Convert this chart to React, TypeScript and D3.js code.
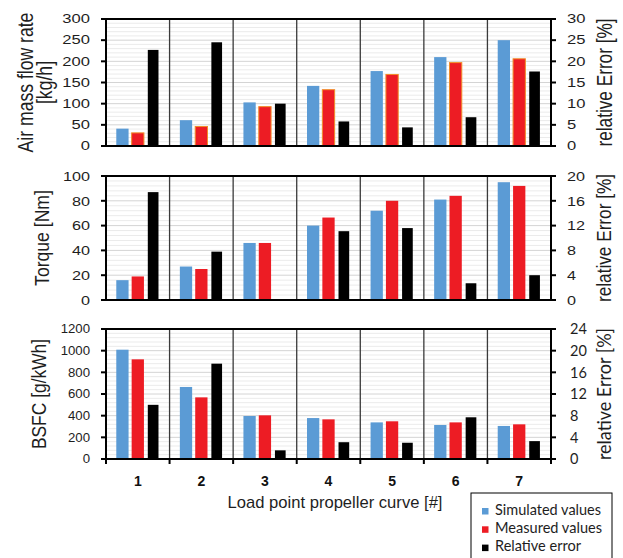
import React from "react";
import * as d3 from "d3";

const categories = ["1", "2", "3", "4", "5", "6", "7"];
const seriesNames = ["Simulated values", "Measured values", "Relative error"];

const airSim = [41, 61, 103, 142, 177, 210, 250];
const airMeas = [31, 46, 93, 133, 169, 197, 206];
const airErr = [22.7, 24.5, 10.0, 5.8, 4.4, 6.8, 17.6];

const torqueSim = [16, 27, 46, 60, 72, 81, 95];
const torqueMeas = [19, 25, 46, 66.5, 80, 84, 92];
const torqueErr = [17.4, 7.8, 0, 11.1, 11.6, 2.7, 4.0];

const bsfcSim = [1009, 665, 397, 378, 338, 314, 305];
const bsfcMeas = [920, 569, 403, 366, 348, 338, 320];
const bsfcErr = [10.0, 17.6, 1.6, 3.1, 3.0, 7.7, 3.3];

const airTicks = [0, 50, 100, 150, 200, 250, 300];
const airErrTicks = [0, 5, 10, 15, 20, 25, 30];
const torqueTicks = [0, 20, 40, 60, 80, 100];
const torqueErrTicks = [0, 4, 8, 12, 16, 20];
const bsfcTicks = [0, 200, 400, 600, 800, 1000, 1200];
const bsfcErrTicks = [0, 4, 8, 12, 16, 20, 24];

const legendWidths = [106, 107, 86];

const BLUE = "#5b9bd5";
const RED = "#ed1c24";
const BLACK = "#000000";
const FONT = "'Liberation Sans', Arial, sans-serif";
const FONT2 = "Lato, 'Open Sans', sans-serif";

const X0 = 106;
const X1 = 551;

const x = d3.scaleBand().domain(categories).range([X0, X1]).padding(0);

type PanelProps = {
  top: number;
  bottom: number;
  sim: number[];
  meas: number[];
  err: number[];
  ticks: number[];
  errTicks: number[];
  title: string[];
  fs: number;
  sx: number;
  titleFs: number;
  titleSx: number;
  titleX: number;
  errFont: string;
  errLabelX: number;
  measStroke?: string;
  showX?: boolean;
};

const Panel = (p: PanelProps) => {
  const y = d3
    .scaleLinear()
    .domain([0, p.ticks[p.ticks.length - 1]])
    .range([p.bottom, p.top]);
  const y2 = d3
    .scaleLinear()
    .domain([0, p.errTicks[p.errTicks.length - 1]])
    .range([p.bottom, p.top]);

  // minor grid, 5 per major step
  const step = p.ticks[1] - p.ticks[0];
  const minor: number[] = [];
  for (let i = 0; i < p.ticks.length - 1; i++) {
    for (let k = 1; k < 5; k++) minor.push(p.ticks[i] + (step * k) / 5);
  }

  const bw = x.bandwidth();
  const sub = d3.scaleBand().domain(seriesNames).range([0, 43]).paddingInner(0.2);

  const cy = (p.top + p.bottom) / 2;

  return (
    <g>
      {minor.map((v, i) => (
        <line key={"m" + i} x1={X0} x2={X1} y1={y(v)} y2={y(v)} stroke="#ebebeb" strokeWidth={1} />
      ))}
      {p.ticks.map((v) => (
        <line key={"g" + v} x1={X0} x2={X1} y1={y(v)} y2={y(v)} stroke="#d4d4d4" strokeWidth={1} />
      ))}
      {categories.slice(1).map((c) => (
        <line
          key={"d" + c}
          x1={x(c)}
          x2={x(c)}
          y1={p.top}
          y2={p.bottom}
          stroke="#3a3a3a"
          strokeWidth={1.3}
        />
      ))}

      {categories.map((c, i) => {
        const c0 = (x(c) as number) + bw / 2 - 21.5;
        return (
          <g key={"b" + c}>
            <rect
              x={c0 + (sub("Simulated values") as number)}
              y={y(p.sim[i])}
              width={sub.bandwidth()}
              height={p.bottom - y(p.sim[i])}
              fill={BLUE}
            />
            <rect
              x={c0 + (sub("Measured values") as number)}
              y={y(p.meas[i])}
              width={sub.bandwidth()}
              height={p.bottom - y(p.meas[i])}
              fill={RED}
              stroke={p.measStroke || "none"}
              strokeWidth={p.measStroke ? 1 : 0}
            />
            <rect
              x={c0 + (sub("Relative error") as number) + 0.8}
              y={y2(p.err[i])}
              width={sub.bandwidth() - 1.6}
              height={p.bottom - y2(p.err[i])}
              fill={BLACK}
            />
          </g>
        );
      })}

      {/* frame */}
      <line x1={X0} x2={X1} y1={p.top} y2={p.top} stroke="#000" strokeWidth={2} />
      <line x1={X0} x2={X1} y1={p.bottom} y2={p.bottom} stroke="#000" strokeWidth={2} />
      <line x1={X0} x2={X0} y1={p.top} y2={p.bottom} stroke="#000" strokeWidth={2} />
      <line x1={X1} x2={X1} y1={p.top} y2={p.bottom} stroke="#000" strokeWidth={2} />

      {p.ticks.map((v) => (
        <g key={"lt" + v}>
          <line x1={X0 - 5} x2={X0} y1={y(v)} y2={y(v)} stroke="#000" strokeWidth={2} />
          <text
            transform={`translate(90,${y(v)}) scale(${p.sx},1)`}
            dy="0.36em"
            textAnchor="end"
            fontFamily={FONT}
            fontSize={p.fs}
            fill="#1e1e1e"
          >
            {v}
          </text>
        </g>
      ))}
      {p.errTicks.map((v) => (
        <g key={"rt" + v}>
          <line x1={X1} x2={X1 + 5} y1={y2(v)} y2={y2(v)} stroke="#000" strokeWidth={2} />
          <text
            transform={`translate(${p.errLabelX},${y2(v)}) scale(${p.errFont === FONT ? p.sx : 1},1)`}
            dy="0.36em"
            textAnchor="start"
            fontFamily={p.errFont}
            fontSize={p.errFont === FONT ? p.fs : 14.5}
            fill="#1e1e1e"
          >
            {v}
          </text>
        </g>
      ))}

      {p.title.map((t, i) => (
        <text
          key={"t" + i}
          transform={`translate(${p.titleX + i * 19},${cy}) rotate(-90) scale(1,${p.titleSx})`}
          dy="0.36em"
          textAnchor="middle"
          fontFamily={FONT}
          fontSize={p.titleFs}
          fill="#1e1e1e"
        >
          {t}
        </text>
      ))}
      <text
        transform={`translate(604,${cy}) rotate(-90) scale(1,${p.errFont === FONT ? p.titleSx : 1.05})`}
        dy="0.36em"
        textAnchor="middle"
        fontFamily={p.errFont}
        fontSize={p.errFont === FONT ? 17.2 : 18}
        fill="#1e1e1e"
      >
        relative Error [%]
      </text>

      {p.showX && (
        <g>
          {d3.range(categories.length + 1).map((i) => {
            const xx = X0 + i * bw;
            return <line key={"xt" + i} x1={xx} x2={xx} y1={p.bottom} y2={p.bottom + 5} stroke="#000" strokeWidth={2} />;
          })}
          {categories.map((c) => (
            <text
              key={"xl" + c}
              x={(x(c) as number) + bw / 2}
              y={486}
              textAnchor="middle"
              fontFamily={FONT}
              fontWeight="bold"
              fontSize={14}
              fill="#111"
            >
              {c}
            </text>
          ))}
        </g>
      )}
    </g>
  );
};

const legendColors = [BLUE, RED, BLACK];

const App = () => {
  return (
    <svg
      width={623}
      height={558}
      style={{ position: "absolute", left: 0, top: 0, background: "#fff" }}
    >
      <rect width={623} height={558} fill="#fff" />
      <Panel
        top={19}
        bottom={146}
        sim={airSim}
        meas={airMeas}
        err={airErr}
        ticks={airTicks}
        errTicks={airErrTicks}
        title={["Air mass flow rate", "[kg/h]"]}
        fs={12}
        sx={1.38}
        titleFs={17.6}
        titleSx={1.3}
        titleX={25}
        errFont={FONT}
        errLabelX={567}
        measStroke="#f28c28"
      />
      <Panel
        top={176}
        bottom={300}
        sim={torqueSim}
        meas={torqueMeas}
        err={torqueErr}
        ticks={torqueTicks}
        errTicks={torqueErrTicks}
        title={["Torque [Nm]"]}
        fs={13.5}
        sx={1.2}
        titleFs={17.6}
        titleSx={1.2}
        titleX={41}
        errFont={FONT}
        errLabelX={567}
      />
      <Panel
        top={329}
        bottom={459}
        sim={bsfcSim}
        meas={bsfcMeas}
        err={bsfcErr}
        ticks={bsfcTicks}
        errTicks={bsfcErrTicks}
        title={["BSFC [g/kWh]"]}
        fs={12}
        sx={1.1}
        titleFs={17.4}
        titleSx={1.15}
        titleX={39}
        errFont={FONT2}
        errLabelX={570}
        showX
      />

      <text x={335} y={508} textAnchor="middle" fontFamily={FONT} fontSize={16.6} fill="#1e1e1e">
        Load point propeller curve [#]
      </text>

      <rect x={471} y={493} width={141} height={70} fill="#fff" stroke="#000" strokeWidth={1} />
      {seriesNames.map((s, i) => (
        <g key={s}>
          <rect x={482} y={508 + i * 18.3} width={6.5} height={6.5} fill={legendColors[i]} />
          <text
            x={495}
            y={514.5 + i * 18.3}
            fontFamily={FONT2}
            fontSize={15}
            textLength={legendWidths[i]}
            lengthAdjust="spacingAndGlyphs"
            fill="#1e1e1e"
          >
            {s}
          </text>
        </g>
      ))}
    </svg>
  );
};

export default App;
